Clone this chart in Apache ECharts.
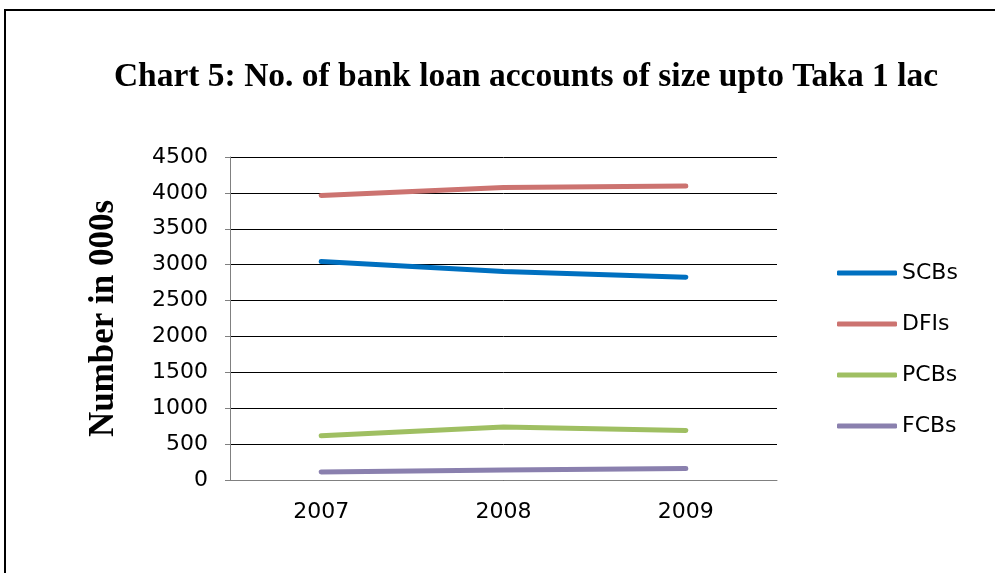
<!DOCTYPE html>
<html><head><meta charset="utf-8">
<script src="https://cdn.jsdelivr.net/npm/echarts@6/dist/echarts.min.js"></script>
<style>html,body{margin:0;padding:0;background:#fff}#c{width:995px;height:573px}</style>
</head><body><div id="c"></div>
<script>
const categories = ['2007', '2008', '2009'];
const scbs = [3045, 2905, 2825];
const dfis = [3965, 4075, 4095];
const pcbs = [615, 740, 690];
const fcbs = [112, 140, 160];
const yTicks = { min: 0, max: 4500, interval: 500 };

const chart = echarts.init(document.getElementById('c'));
const mk = (name, data, color) => ({
  name, type: 'line', data, symbol: 'none', smooth: false,
  lineStyle: { color, width: 5, cap: 'round', join: 'round' },
  itemStyle: { color }
});
const sans = 'DejaVu Sans';
chart.setOption({
  animation: false,
  graphic: [{ type: 'rect', shape: { x: 5, y: 10, width: 1000, height: 620 }, style: { fill: 'none', stroke: '#000', lineWidth: 2 }, z: 100 }],
  title: {
    text: 'Chart 5: No. of bank loan accounts of size upto Taka 1 lac',
    left: 521, top: 55, textAlign: 'center',
    textStyle: { fontFamily: 'Liberation Serif', fontWeight: 'bold', fontSize: 33.5, color: '#000' }
  },
  grid: { left: 230, right: 218, top: 157, bottom: 93 },
  legend: {
    orient: 'vertical', left: 832, top: 257, itemGap: 29,
    icon: 'roundRect', itemWidth: 60, itemHeight: 5,
    textStyle: { fontFamily: sans, fontSize: 22, color: '#000', lineHeight: 22, padding: [0, 0, 0, 0] },
    data: ['SCBs', 'DFIs', 'PCBs', 'FCBs']
  },
  xAxis: {
    type: 'category', data: categories, boundaryGap: true,
    axisLine: { lineStyle: { color: '#808080', width: 1 } },
    axisTick: { show: false },
    axisLabel: { fontFamily: sans, fontSize: 22, color: '#000', margin: 21 }
  },
  yAxis: {
    type: 'value', min: yTicks.min, max: yTicks.max, interval: yTicks.interval,
    name: 'Number in 000s', nameLocation: 'middle', nameGap: 109,
    nameTextStyle: { fontFamily: 'Liberation Serif', fontWeight: 'bold', fontSize: 35, color: '#000' },
    axisLine: { show: true, lineStyle: { color: '#808080', width: 1 } },
    axisTick: { show: true, length: 5, lineStyle: { color: '#808080' } },
    axisLabel: { fontFamily: sans, fontSize: 22, color: '#000', margin: 22, formatter: v => String(v) },
    splitLine: { lineStyle: { color: '#000', width: 1 } }
  },
  series: [
    mk('SCBs', scbs, '#0070C0'),
    mk('DFIs', dfis, '#CC7370'),
    mk('PCBs', pcbs, '#9FBF62'),
    mk('FCBs', fcbs, '#8A80AE')
  ]
});
</script></body></html>
